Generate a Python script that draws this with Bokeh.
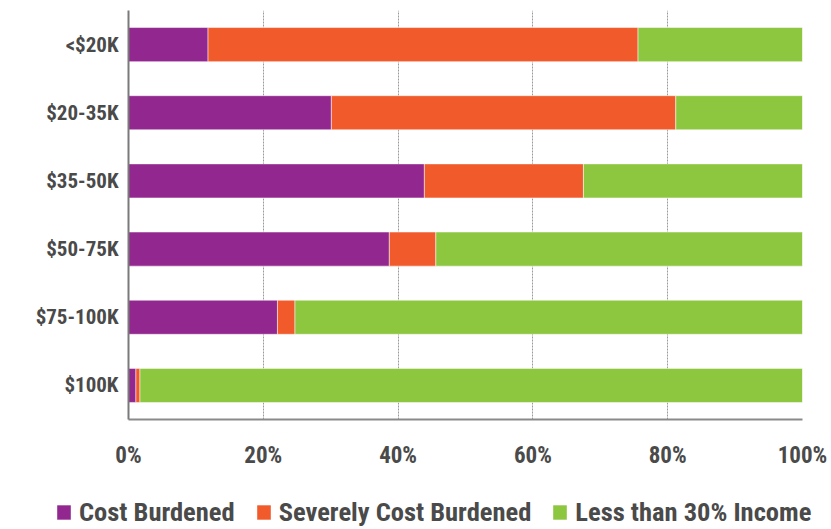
from bokeh.plotting import figure
from bokeh.layouts import column
from bokeh.models import ColumnDataSource, FactorRange, Range1d, Legend, LegendItem, FixedTicker, CustomJSTickFormatter
from bokeh.embed import file_html
from bokeh.resources import INLINE

categories = ["<$20K", "$20-35K", "$35-50K", "$50-75K", "$75-100K", "$100K"]
cost_burdened = [11.8, 30.1, 43.9, 38.7, 22.1, 1.1]
severely_cost_burdened = [63.8, 51.1, 23.6, 6.9, 2.6, 0.6]
less_than_30 = [round(100 - a - b, 1) for a, b in zip(cost_burdened, severely_cost_burdened)]
series_names = ["Cost Burdened", "Severely Cost Burdened", "Less than 30% Income"]
colors = ["#92278F", "#F15A2B", "#8DC63F"]
x_ticks = [0, 20, 40, 60, 80, 100]

FONT = "Roboto Condensed, DejaVu Sans Condensed"
TXT = "#4a4a4a"
W = 831

src = ColumnDataSource(dict(cat=categories, cb=cost_burdened, scb=severely_cost_burdened, lt=less_than_30))

p = figure(width=W, height=471, output_backend="svg", toolbar_location=None,
           y_range=FactorRange(factors=list(reversed(categories)), range_padding=0),
           x_range=(0, 100))
p.min_border_left = 128
p.min_border_right = 29
p.min_border_top = 10
p.min_border_bottom = 50
p.outline_line_color = None
p.frame_align = False

renderers = p.hbar_stack(["cb", "scb", "lt"], y="cat", height=0.5, color=colors, source=src,
                         line_color="white", line_alpha=0.5, line_width=1)

p.xaxis.ticker = FixedTicker(ticks=x_ticks)
p.xaxis.formatter = CustomJSTickFormatter(code="return tick + '%';")
p.xaxis.major_tick_line_color = None
p.xaxis.minor_tick_line_color = None
p.yaxis.major_tick_line_color = None
p.yaxis.minor_tick_line_color = None
p.xaxis.axis_line_color = "#8a8a8a"
p.yaxis.axis_line_color = "#7a7a7a"
p.xaxis.axis_line_width = 2
p.yaxis.axis_line_width = 2
for ax in (p.xaxis, p.yaxis):
    ax.major_label_text_font = FONT
    ax.major_label_text_font_style = "bold"
    ax.major_label_text_color = TXT
p.xaxis.major_label_text_font_size = "23px"
p.yaxis.major_label_text_font_size = "21px"
p.xaxis.major_label_standoff = 16
p.yaxis.major_label_standoff = 4

p.ygrid.grid_line_color = None
p.xgrid.ticker = FixedTicker(ticks=x_ticks)
p.xgrid.grid_line_color = "#9a9a9a"
p.xgrid.grid_line_dash = "2 1"
p.xgrid.grid_line_width = 1

# legend strip below the chart (its bars lie far outside the view; only the legend shows)
lg = figure(width=W, height=58, output_backend="svg", toolbar_location=None,
            x_range=Range1d(-2000, -1000), y_range=FactorRange(factors=categories))
lg.min_border_left = lg.min_border_right = lg.min_border_top = lg.min_border_bottom = 0
lg.axis.visible = False
lg.grid.visible = False
lg.outline_line_color = None
lg.frame_align = False
lg_renderers = lg.hbar_stack(["cb", "scb", "lt"], y="cat", height=0.5, color=colors, source=src,
                             line_color=None)

legend = Legend(items=[LegendItem(label=n, renderers=[r]) for n, r in zip(series_names, lg_renderers)],
                orientation="horizontal", location=(55, 2))
legend.label_text_font = FONT
legend.label_text_font_style = "bold"
legend.label_text_font_size = "26.5px"
legend.label_text_color = TXT
legend.glyph_width = 17
legend.glyph_height = 18
legend.label_standoff = 7
legend.spacing = 20
legend.padding = 0
legend.margin = 0
legend.border_line_color = None
legend.background_fill_alpha = 0
lg.add_layout(legend, "center")

open("out.html", "w").write(file_html(column(p, lg, spacing=0), INLINE))
